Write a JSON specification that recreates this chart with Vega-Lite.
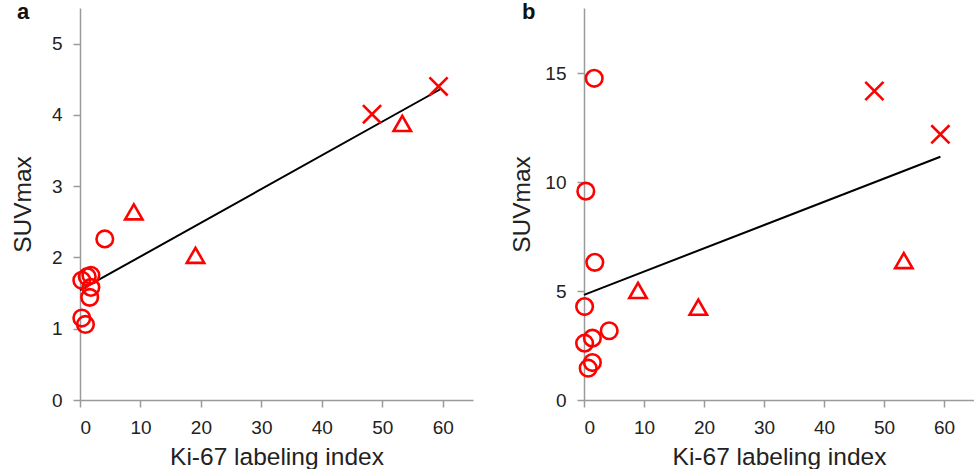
{
  "$schema": "https://vega.github.io/schema/vega-lite/v6.json",
  "background": "white",
  "padding": {"left": 10, "top": 1, "right": 0, "bottom": 0},
  "spacing": 36,
  "config": {
    "font": "Liberation Sans",
    "view": {"stroke": null},
    "axis": {
      "grid": false,
      "domainColor": "#9a9a9a",
      "domainWidth": 1.5,
      "tickColor": "#9a9a9a",
      "tickWidth": 1.5,
      "tickSize": 7,
      "labelFont": "Liberation Sans",
      "labelFontSize": 19,
      "labelColor": "#222222",
      "labelPadding": 11,
      "titleFont": "Liberation Sans",
      "titleFontSize": 24.5,
      "titleFontWeight": "normal",
      "titleColor": "#222222",
      "titlePadding": 8
    },
    "axisY": {"titlePadding": 16},
    "title": {"font": "Liberation Sans", "fontSize": 22, "fontWeight": "bold", "color": "#111111", "anchor": "start", "frame": "group", "offset": 0}
  },
  "datasets": {
    "pointsA": [
      {"ki67": 0.3, "suv": 1.68, "grade": "low"},
      {"ki67": 1.2, "suv": 1.73, "grade": "low"},
      {"ki67": 1.8, "suv": 1.75, "grade": "low"},
      {"ki67": 1.8, "suv": 1.58, "grade": "low"},
      {"ki67": 1.6, "suv": 1.44, "grade": "low"},
      {"ki67": 0.3, "suv": 1.15, "grade": "low"},
      {"ki67": 0.9, "suv": 1.06, "grade": "low"},
      {"ki67": 4.1, "suv": 2.26, "grade": "low"},
      {"ki67": 8.9, "suv": 2.64, "grade": "intermediate"},
      {"ki67": 19.1, "suv": 2.03, "grade": "intermediate"},
      {"ki67": 53.3, "suv": 3.88, "grade": "intermediate"},
      {"ki67": 48.3, "suv": 4.01, "grade": "high"},
      {"ki67": 59.3, "suv": 4.40, "grade": "high"}
    ],
    "fitA": [
      {"ki67": 0, "suv": 1.54},
      {"ki67": 59.6, "suv": 4.36}
    ],
    "pointsB": [
      {"ki67": 1.7, "suv": 14.77, "grade": "low"},
      {"ki67": 0.3, "suv": 9.59, "grade": "low"},
      {"ki67": 1.8, "suv": 6.32, "grade": "low"},
      {"ki67": 0.1, "suv": 4.29, "grade": "low"},
      {"ki67": 4.2, "suv": 3.18, "grade": "low"},
      {"ki67": 1.4, "suv": 2.84, "grade": "low"},
      {"ki67": 0.1, "suv": 2.61, "grade": "low"},
      {"ki67": 1.4, "suv": 1.72, "grade": "low"},
      {"ki67": 0.7, "suv": 1.46, "grade": "low"},
      {"ki67": 9.0, "suv": 5.03, "grade": "intermediate"},
      {"ki67": 19.05, "suv": 4.26, "grade": "intermediate"},
      {"ki67": 53.3, "suv": 6.40, "grade": "intermediate"},
      {"ki67": 48.4, "suv": 14.19, "grade": "high"},
      {"ki67": 59.4, "suv": 12.20, "grade": "high"}
    ],
    "fitB": [
      {"ki67": 0, "suv": 4.83},
      {"ki67": 59.4, "suv": 11.17}
    ]
  },
  "hconcat": [
    {
      "width": 393,
      "height": 392,
      "title": {"text": "a", "dx": -63, "dy": 20},
      "layer": [
        {
          "data": {"name": "fitA"},
          "mark": {"type": "line", "color": "black", "strokeWidth": 2},
          "encoding": {
            "x": {"field": "ki67", "type": "quantitative"},
            "y": {"field": "suv", "type": "quantitative"}
          }
        },
        {
          "data": {"name": "pointsA"},
          "mark": {"type": "point", "filled": false, "color": "#ff0000", "strokeWidth": 2.6, "opacity": 1},
          "encoding": {
            "x": {"field": "ki67", "type": "quantitative", "scale": {"domain": [0, 65], "nice": false}, "axis": {"values": [0, 10, 20, 30, 40, 50, 60], "format": "d", "title": "Ki-67 labeling index"}},
            "y": {"field": "suv", "type": "quantitative", "scale": {"domain": [0, 5.5], "nice": false}, "axis": {"values": [0, 1, 2, 3, 4, 5], "format": "d", "title": "SUVmax"}},
            "shape": {"field": "grade", "type": "nominal", "scale": {"domain": ["low", "intermediate", "high"], "range": ["circle", "triangle-up", "M-1,-1L1,1M-1,1L1,-1"]}, "legend": null},
            "size": {"field": "grade", "type": "nominal", "scale": {"domain": ["low", "intermediate", "high"], "range": [275, 330, 220]}, "legend": null}
          }
        }
      ]
    },
    {
      "width": 390,
      "height": 392,
      "title": {"text": "b", "dx": -62, "dy": 20},
      "layer": [
        {
          "data": {"name": "fitB"},
          "mark": {"type": "line", "color": "black", "strokeWidth": 2},
          "encoding": {
            "x": {"field": "ki67", "type": "quantitative"},
            "y": {"field": "suv", "type": "quantitative"}
          }
        },
        {
          "data": {"name": "pointsB"},
          "mark": {"type": "point", "filled": false, "color": "#ff0000", "strokeWidth": 2.6, "opacity": 1},
          "encoding": {
            "x": {"field": "ki67", "type": "quantitative", "scale": {"domain": [0, 65], "nice": false}, "axis": {"values": [0, 10, 20, 30, 40, 50, 60], "format": "d", "title": "Ki-67 labeling index"}},
            "y": {"field": "suv", "type": "quantitative", "scale": {"domain": [0, 18], "nice": false}, "axis": {"values": [0, 5, 10, 15], "format": "d", "title": "SUVmax", "titlePadding": 10}},
            "shape": {"field": "grade", "type": "nominal", "scale": {"domain": ["low", "intermediate", "high"], "range": ["circle", "triangle-up", "M-1,-1L1,1M-1,1L1,-1"]}, "legend": null},
            "size": {"field": "grade", "type": "nominal", "scale": {"domain": ["low", "intermediate", "high"], "range": [275, 330, 220]}, "legend": null}
          }
        }
      ]
    }
  ]
}
